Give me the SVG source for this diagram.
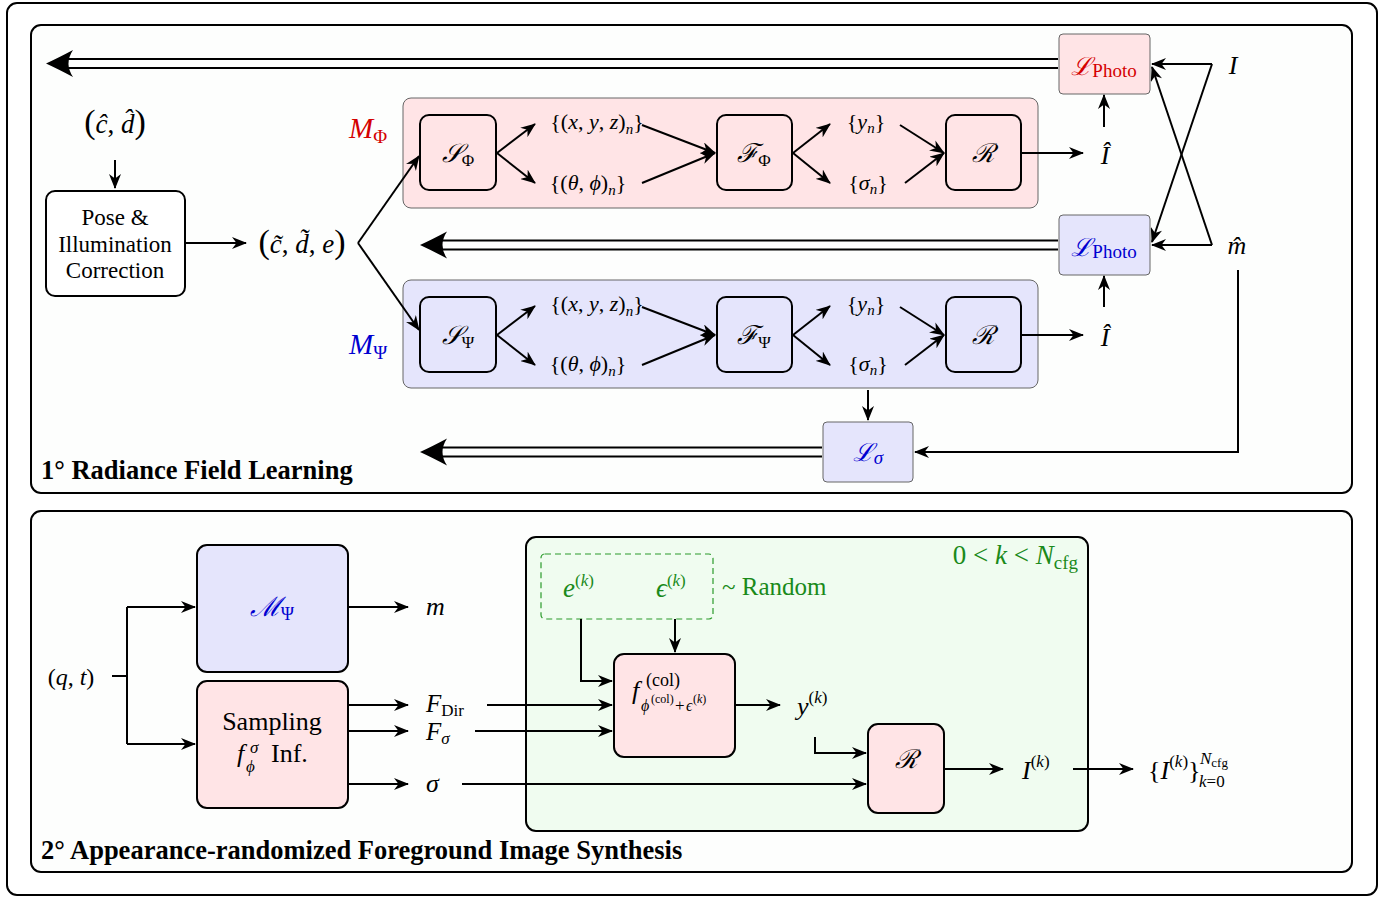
<svg xmlns="http://www.w3.org/2000/svg" width="1392" height="897" viewBox="0 0 1392 897">
  <defs>
    <marker id="ah" viewBox="0 0 15 12" refX="14" refY="6" markerWidth="15" markerHeight="12" markerUnits="userSpaceOnUse" orient="auto">
      <path d="M0,0 L15,6 L0,12 L4.5,6 z" fill="#000"/>
    </marker>
    <style>
      .frame{fill:#fff;stroke:#000;stroke-width:2}
      .panel{fill:#fdfefd;stroke:#000;stroke-width:2}
      .box{stroke:#000;stroke-width:2}
      .pink{fill:#ffe4e6}
      .lav{fill:#e5e5fc}
      .green{fill:#f0fcf0}
      .grp{stroke:#666;stroke-width:1}
      .ln{fill:none;stroke:#000;stroke-width:2}
      .arr{marker-end:url(#ah)}
      .dash{fill:none;stroke:#2a9a2a;stroke-width:1.2;stroke-dasharray:6 4}
      .t{font-family:"Liberation Serif","Times New Roman",serif;fill:#000}
      .i{font-style:italic}
      .red{fill:#d40000}
      .blue{fill:#0000d0}
      .grn{fill:#1a8a1a}
      .cal{font-family:"DejaVu Serif","Liberation Serif",serif;font-style:italic}
      .ttl{font-family:"Liberation Serif","Times New Roman",serif;font-weight:bold;font-size:26.5px}
    </style>
  </defs>

  <!-- outer frame and two panels -->
  <rect class="frame" x="7" y="3" width="1370" height="892" rx="10"/>
  <rect class="panel" x="31" y="25" width="1321" height="468" rx="10"/>
  <rect class="panel" x="31" y="511" width="1321" height="361" rx="10"/>

  <!-- ===== Panel 1: radiance field learning ===== -->
  <g id="group-phi">
    <rect class="pink grp" x="403" y="98" width="635" height="110" rx="8"/>
    <text class="t i red" x="349" y="138" font-size="29">M<tspan font-style="normal" font-size="19" dy="5">Φ</tspan></text>
  </g>
  <g id="group-psi">
    <rect class="lav grp" x="403" y="280" width="635" height="108" rx="8"/>
    <text class="t i blue" x="349" y="354" font-size="29">M<tspan font-style="normal" font-size="19" dy="5">Ψ</tspan></text>
  </g>

  <g id="S-phi">
    <rect class="box pink" x="420" y="115" width="76" height="75" rx="9"/>
    <text class="t" x="458" y="162" font-size="26" text-anchor="middle"><tspan class="cal">𝒮</tspan><tspan font-size="17" dy="4">Φ</tspan></text>
  </g>
  <g id="F-phi">
    <rect class="box pink" x="717" y="115" width="75" height="75" rx="9"/>
    <text class="t" x="754" y="162" font-size="26" text-anchor="middle"><tspan class="cal">ℱ</tspan><tspan font-size="17" dy="4">Φ</tspan></text>
  </g>
  <g id="R-phi">
    <rect class="box pink" x="946" y="115" width="75" height="75" rx="9"/>
    <text class="t cal" x="983" y="162" font-size="26" text-anchor="middle">ℛ</text>
  </g>
  <g id="S-psi">
    <rect class="box lav" x="420" y="297" width="76" height="75" rx="9"/>
    <text class="t" x="458" y="344" font-size="26" text-anchor="middle"><tspan class="cal">𝒮</tspan><tspan font-size="17" dy="4">Ψ</tspan></text>
  </g>
  <g id="F-psi">
    <rect class="box lav" x="717" y="297" width="75" height="75" rx="9"/>
    <text class="t" x="754" y="344" font-size="26" text-anchor="middle"><tspan class="cal">ℱ</tspan><tspan font-size="17" dy="4">Ψ</tspan></text>
  </g>
  <g id="R-psi">
    <rect class="box lav" x="946" y="297" width="75" height="75" rx="9"/>
    <text class="t cal" x="983" y="344" font-size="26" text-anchor="middle">ℛ</text>
  </g>

  <g id="loss-photo-red">
    <rect class="pink grp" x="1059" y="34" width="91" height="60" rx="4"/>
    <text class="t red" x="1104" y="75" font-size="25" text-anchor="middle"><tspan class="cal">ℒ</tspan><tspan font-size="19" dy="2">Photo</tspan></text>
  </g>
  <g id="loss-photo-blue">
    <rect class="lav grp" x="1059" y="215" width="91" height="60" rx="4"/>
    <text class="t blue" x="1104" y="256" font-size="25" text-anchor="middle"><tspan class="cal">ℒ</tspan><tspan font-size="19" dy="2">Photo</tspan></text>
  </g>
  <g id="loss-sigma">
    <rect class="lav grp" x="823" y="422" width="90" height="60" rx="4"/>
    <text class="t blue" x="868" y="461" font-size="25" text-anchor="middle"><tspan class="cal">ℒ</tspan><tspan class="i" font-size="19" dy="3">σ</tspan></text>
  </g>

  <g id="pose-correction">
    <rect class="box" x="46" y="191" width="139" height="105" rx="9" fill="#fff"/>
    <text class="t" x="115" y="225" font-size="23" text-anchor="middle">Pose &amp;</text>
    <text class="t" x="115" y="252" font-size="23" text-anchor="middle">Illumination</text>
    <text class="t" x="115" y="278" font-size="23" text-anchor="middle">Correction</text>
  </g>

  <!-- labels of panel 1 -->
  <g id="labels-1">
    <text class="t" x="115" y="133" font-size="27" text-anchor="middle"><tspan font-size="34">(</tspan><tspan class="i">ĉ</tspan>, <tspan class="i">d̂</tspan><tspan font-size="34">)</tspan></text>
    <text class="t" x="302" y="253" font-size="27" text-anchor="middle"><tspan font-size="34">(</tspan><tspan class="i">c̃</tspan>, <tspan class="i">d̃</tspan>, <tspan class="i">e</tspan><tspan font-size="34">)</tspan></text>
    <text class="t" x="597" y="129" font-size="22" text-anchor="middle">{(<tspan class="i">x</tspan>, <tspan class="i">y</tspan>, <tspan class="i">z</tspan>)<tspan class="i" font-size="15" dy="5">n</tspan><tspan dy="-5">}</tspan></text>
    <text class="t" x="588" y="190" font-size="22" text-anchor="middle">{(<tspan class="i">θ</tspan>, <tspan class="i">ϕ</tspan>)<tspan class="i" font-size="15" dy="5">n</tspan><tspan dy="-5">}</tspan></text>
    <text class="t" x="866" y="129" font-size="22" text-anchor="middle">{<tspan class="i">y</tspan><tspan class="i" font-size="15" dy="4">n</tspan><tspan dy="-4">}</tspan></text>
    <text class="t" x="868" y="190" font-size="22" text-anchor="middle">{<tspan class="i">σ</tspan><tspan class="i" font-size="15" dy="4">n</tspan><tspan dy="-4">}</tspan></text>
    <text class="t" x="597" y="311" font-size="22" text-anchor="middle">{(<tspan class="i">x</tspan>, <tspan class="i">y</tspan>, <tspan class="i">z</tspan>)<tspan class="i" font-size="15" dy="5">n</tspan><tspan dy="-5">}</tspan></text>
    <text class="t" x="588" y="371" font-size="22" text-anchor="middle">{(<tspan class="i">θ</tspan>, <tspan class="i">ϕ</tspan>)<tspan class="i" font-size="15" dy="5">n</tspan><tspan dy="-5">}</tspan></text>
    <text class="t" x="866" y="311" font-size="22" text-anchor="middle">{<tspan class="i">y</tspan><tspan class="i" font-size="15" dy="4">n</tspan><tspan dy="-4">}</tspan></text>
    <text class="t" x="868" y="371" font-size="22" text-anchor="middle">{<tspan class="i">σ</tspan><tspan class="i" font-size="15" dy="4">n</tspan><tspan dy="-4">}</tspan></text>
    <text class="t i" x="1105" y="164" font-size="26" text-anchor="middle">Î</text>
    <text class="t i" x="1105" y="346" font-size="26" text-anchor="middle">Î</text>
    <text class="t i" x="1233" y="74" font-size="26" text-anchor="middle">I</text>
    <text class="t i" x="1237" y="254" font-size="26" text-anchor="middle">m̂</text>
    <text class="ttl" x="41" y="479">1° Radiance Field Learning</text>
  </g>

  <!-- ===== Panel 2: foreground image synthesis ===== -->
  <g id="loop-region">
    <rect class="box green" x="526" y="537" width="562" height="294" rx="10"/>
    <text class="t grn" x="1078" y="564" font-size="27" text-anchor="end">0 &lt; <tspan class="i">k</tspan> &lt; <tspan class="i">N</tspan><tspan font-size="19" dy="5">cfg</tspan></text>
  </g>
  <g id="random-codes">
    <rect class="dash" x="541" y="554" width="172" height="65" rx="4"/>
    <text class="t i grn" x="563" y="597" font-size="27">e<tspan font-style="normal" font-size="17" dy="-11">(</tspan><tspan font-size="17">k</tspan><tspan font-style="normal" font-size="17">)</tspan></text>
    <text class="t i grn" x="656" y="597" font-size="27">ϵ<tspan font-style="normal" font-size="17" dy="-11">(</tspan><tspan font-size="17">k</tspan><tspan font-style="normal" font-size="17">)</tspan></text>
    <text class="t grn" x="722" y="595" font-size="25">~ Random</text>
  </g>
  <g id="M-psi">
    <rect class="box lav" x="197" y="545" width="151" height="127" rx="10"/>
    <text class="t blue" x="272" y="616" font-size="27" text-anchor="middle"><tspan class="cal">ℳ</tspan><tspan font-size="18" dy="4">Ψ</tspan></text>
  </g>
  <g id="sampling">
    <rect class="box pink" x="197" y="681" width="151" height="127" rx="10"/>
    <text class="t" x="272" y="730" font-size="26" text-anchor="middle">Sampling</text>
    <text class="t" font-size="26"><tspan class="i" x="237" y="762">f</tspan><tspan class="i" font-size="17" x="250" y="753">σ</tspan><tspan class="i" font-size="17" x="246" y="772">ϕ</tspan><tspan x="271" y="762">Inf.</tspan></text>
  </g>
  <g id="color-net">
    <rect class="box pink" x="614" y="654" width="121" height="103" rx="10"/>
    <text class="t" font-size="26"><tspan class="i" x="632" y="699">f</tspan><tspan font-size="18" x="646" y="686">(col)</tspan><tspan class="i" font-size="16" x="641" y="711">ϕ</tspan><tspan font-size="12" x="651" y="703">(col)</tspan><tspan font-size="17" x="675" y="711">+</tspan><tspan class="i" font-size="16" x="686" y="711">ϵ</tspan><tspan font-size="12" x="693" y="703">(<tspan class="i">k</tspan>)</tspan></text>
  </g>
  <g id="renderer">
    <rect class="box pink" x="868" y="724" width="76" height="89" rx="10"/>
    <text class="t cal" x="906" y="768" font-size="26" text-anchor="middle">ℛ</text>
  </g>

  <g id="labels-2">
    <text class="t" x="71" y="685" font-size="24" text-anchor="middle">(<tspan class="i">q</tspan>, <tspan class="i">t</tspan>)</text>
    <text class="t i" x="426" y="615" font-size="26">m</text>
    <text class="t i" x="426" y="712" font-size="25">F<tspan font-style="normal" font-size="17" dy="4">Dir</tspan></text>
    <text class="t i" x="426" y="740" font-size="25">F<tspan font-size="17" dy="4">σ</tspan></text>
    <text class="t i" x="426" y="792" font-size="26">σ</text>
    <text class="t i" x="797" y="715" font-size="26">y<tspan font-style="normal" font-size="17" dy="-12">(</tspan><tspan font-size="17">k</tspan><tspan font-style="normal" font-size="17">)</tspan></text>
    <text class="t i" x="1022" y="779" font-size="26">I<tspan font-style="normal" font-size="17" dy="-12">(</tspan><tspan font-size="17">k</tspan><tspan font-style="normal" font-size="17">)</tspan></text>
    <text class="t" font-size="26"><tspan x="1148" y="779">{</tspan><tspan class="i">I</tspan><tspan font-size="17" dy="-12">(<tspan class="i">k</tspan>)</tspan><tspan dy="12">}</tspan><tspan class="i" font-size="17" x="1200" y="764">N</tspan><tspan font-size="13" dy="3">cfg</tspan><tspan class="i" font-size="17" x="1199" y="787">k</tspan><tspan font-size="17">=0</tspan></text>
    <text class="ttl" x="41" y="859">2° Appearance-randomized Foreground Image Synthesis</text>
  </g>

  <!-- ===== connectors ===== -->
  <g id="connectors">
    <!-- double feedback arrows -->
    <path class="ln" d="M1058,59 H60 M1058,68 H60"/>
    <path d="M46,63.5 Q58,58 73,50 Q64,63.5 73,77 Q58,69 46,63.5 Z"/>
    <path class="ln" d="M1058,240.5 H434 M1058,249.5 H434"/>
    <path d="M420,245 Q432,239.5 447,231.5 Q438,245 447,258.5 Q432,250.5 420,245 Z"/>
    <path class="ln" d="M822,447.5 H434 M822,456.5 H434"/>
    <path d="M420,452 Q432,446.5 447,438.5 Q438,452 447,465.5 Q432,457.5 420,452 Z"/>

    <!-- panel 1 single arrows -->
    <path class="ln arr" d="M115,160 V188"/>
    <path class="ln arr" d="M186,243 H246"/>
    <path class="ln arr" d="M358,243 L419,156"/>
    <path class="ln arr" d="M358,243 L419,330"/>

    <path class="ln arr" d="M497,153 L535,124"/>
    <path class="ln arr" d="M497,153 L535,183"/>
    <path class="ln arr" d="M642,125 L715,153"/>
    <path class="ln arr" d="M642,183 L715,153"/>
    <path class="ln arr" d="M793,153 L830,124"/>
    <path class="ln arr" d="M793,153 L830,183"/>
    <path class="ln arr" d="M900,125 L944,153"/>
    <path class="ln arr" d="M905,183 L944,153"/>
    <path class="ln arr" d="M1021,153 H1083"/>
    <path class="ln arr" d="M1104,127 V95"/>

    <path class="ln arr" d="M497,335 L535,306"/>
    <path class="ln arr" d="M497,335 L535,365"/>
    <path class="ln arr" d="M642,307 L715,335"/>
    <path class="ln arr" d="M642,365 L715,335"/>
    <path class="ln arr" d="M793,335 L830,306"/>
    <path class="ln arr" d="M793,335 L830,365"/>
    <path class="ln arr" d="M900,307 L944,335"/>
    <path class="ln arr" d="M905,365 L944,335"/>
    <path class="ln arr" d="M1021,335 H1083"/>
    <path class="ln arr" d="M1104,307 V276"/>
    <path class="ln arr" d="M868,390 V420"/>

    <path class="ln arr" d="M1212,64 H1152"/>
    <path class="ln arr" d="M1212,64 L1152,242"/>
    <path class="ln arr" d="M1212,245 H1152"/>
    <path class="ln arr" d="M1212,245 L1152,67"/>
    <path class="ln arr" d="M1238,270 V452 H915"/>

    <!-- panel 2 arrows -->
    <path class="ln" d="M112,676 H127 M127,607 V744"/>
    <path class="ln arr" d="M127,607 H195"/>
    <path class="ln arr" d="M127,744 H195"/>
    <path class="ln arr" d="M348,607 H408"/>
    <path class="ln arr" d="M348,705 H408"/>
    <path class="ln arr" d="M348,731 H408"/>
    <path class="ln arr" d="M348,784 H408"/>
    <path class="ln arr" d="M487,705 H612"/>
    <path class="ln arr" d="M475,731 H612"/>
    <path class="ln arr" d="M462,784 H866"/>
    <path class="ln arr" d="M581,619 V681 H612"/>
    <path class="ln arr" d="M675,619 V652"/>
    <path class="ln arr" d="M735,705 H780"/>
    <path class="ln arr" d="M815,737 V753 H866"/>
    <path class="ln arr" d="M944,769 H1003"/>
    <path class="ln arr" d="M1073,769 H1133"/>
  </g>
</svg>
